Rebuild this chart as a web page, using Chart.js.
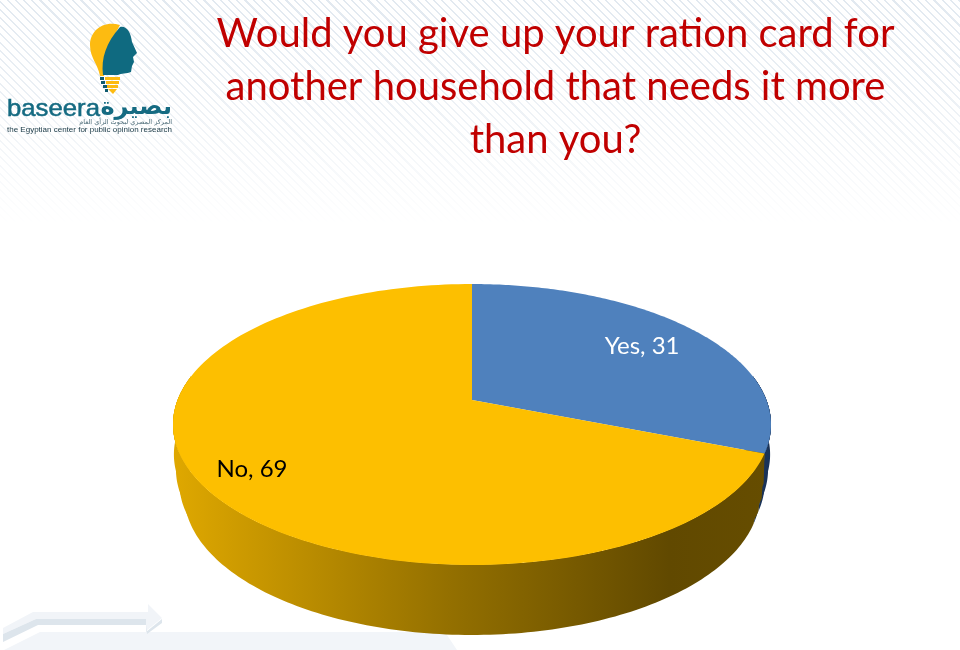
<!DOCTYPE html>
<html>
<head>
<meta charset="utf-8">
<title>Ration card</title>
<script src="https://cdn.jsdelivr.net/npm/chart.js@4"></script>
<style>
  html, body { margin: 0; padding: 0; background: #fff; }
  #page { position: relative; width: 960px; height: 650px; overflow: hidden; filter: blur(0.4px); }
  #hatch {
    position: absolute; left: 0; top: 0; width: 960px; height: 240px;
    background: repeating-linear-gradient(45deg, #e2e9f0 0, #e2e9f0 1.5px, #fff 1.5px, #fff 5.8px);
    -webkit-mask-image: linear-gradient(to bottom, rgba(0,0,0,1) 0, rgba(0,0,0,.7) 90px, rgba(0,0,0,0) 225px);
  }
  #deco, #logo { position: absolute; left: 0; top: 0; }
  canvas { position: absolute; left: 0; top: 0; }
</style>
</head>
<body>
<div id="page">
  <div id="hatch"></div>
  <svg id="deco" width="960" height="650">
    <path d="M4 650 L40 632 L445 632 L457 650 Z" fill="#f2f5f9"/>
    <path d="M3 628 L33 612 L148 612 L148 604 L162 618 L146 631 L146 619 L36 619 L3 634 Z" fill="#f1f4f8"/>
    <path d="M3 634 L36 619 L146 619 L146 632 L162 619 L162 623 L147 634 L146 625 L38 625 L3 642 Z" fill="#dde5ec"/>
  </svg>
  <canvas id="pieChart" width="960" height="650"></canvas>
  <svg id="logo" width="190" height="140">
    <path d="M120 25 C104 20 90 30 90 45 C90 58 98 64 100 76 L104 76 L112 40 Z" fill="#fdbb11"/>
    <path d="M120 27 C126 25 131 32 132 42 L137 53 L133 57 L134 62 L132 66 L131 72 C127 74 121 73 118 75 L103 75 C101 58 106 43 120 27 Z" fill="#0f6a80"/>
    <g fill="#fdbb11">
      <rect x="105" y="77" width="15" height="3"/>
      <rect x="106" y="81" width="13" height="3"/>
      <rect x="107" y="85" width="11" height="3"/>
      <path d="M108 89 L117 89 L113 94 Z"/>
    </g>
    <g fill="#0f5a70">
      <rect x="100" y="77" width="4" height="3"/>
      <rect x="101" y="81" width="4" height="3"/>
      <rect x="103" y="85" width="4" height="3"/>
      <rect x="105" y="89" width="3" height="3"/>
    </g>
    <text x="7" y="116" font-family="Liberation Sans" font-size="24" textLength="93" lengthAdjust="spacingAndGlyphs" fill="#156b82" stroke="#156b82" stroke-width=".5">baseera</text>
    <text x="172" y="114" text-anchor="start" direction="rtl" font-family="DejaVu Sans" font-weight="bold" font-size="24" fill="#156b82">بصيرة</text>
    <text x="172" y="124" text-anchor="start" direction="rtl" font-family="DejaVu Sans" font-size="6.5" fill="#4a6a76">المركز المصري لبحوث الرأي العام</text>
    <text x="7" y="132" font-family="Liberation Sans" font-size="7.4" textLength="165" lengthAdjust="spacingAndGlyphs" fill="#22404c">the Egyptian center for public opinion research</text>
  </svg>
</div>

<script>
const categories = ['Yes', 'No'];
const answers = [31, 69];
const sliceColors = ['#4f81bd', '#fdbf00'];
const labelColors = ['#ffffff', '#000000'];
const questionLines = [
  'Would you give up your ration card for',
  'another household that needs it more',
  'than you?'
];

// tilted pie geometry, the top face is a circle seen in perspective
const pieX = 472, pieY = 400;
const spanX = 294.4, spanY = 136.2, tilt = 0.1744;
const depth = 70;
const labelReach = [0.75, 0.83];

function rimPoint(angle, r, drop) {
  const u = Math.cos(angle) * r, v = Math.sin(angle) * r;
  const w = 1 - tilt * v;
  const shrink = 1 - 0.037 * Math.pow(drop / depth, 3);
  return { x: pieX + spanX * u / w * shrink, y: pieY + spanY * v / w + drop };
}

function tracePath(ctx, from, to, drop, first) {
  const steps = 160;
  for (let i = 0; i <= steps; i++) {
    const p = rimPoint(from + (to - from) * i / steps, 1, drop);
    if (i === 0 && first) ctx.moveTo(p.x, p.y);
    else ctx.lineTo(p.x, p.y);
  }
}

function wallFill(ctx, i) {
  const g = ctx.createLinearGradient(173, 0, 771, 0);
  if (i === 0) {
    g.addColorStop(0, '#1f3a63');
    g.addColorStop(1, '#1a3358');
  } else {
    g.addColorStop(0, '#dfa800');
    g.addColorStop(0.46, '#947000');
    g.addColorStop(0.83, '#614900');
    g.addColorStop(1, '#664d00');
  }
  return g;
}

const tiltedPie = {
  id: 'tiltedPie',
  beforeDatasetsDraw(chart) {
    const ctx = chart.ctx;
    const arcs = chart.getDatasetMeta(0).data;
    ctx.save();
    // side walls first, only the front part of the rim has one
    arcs.forEach((arc, i) => {
      const from = Math.max(arc.startAngle, -0.18);
      const to = Math.min(arc.endAngle, Math.PI + 0.18);
      ctx.fillStyle = wallFill(ctx, i);
      // several sweeps keep the sides straighter before the wall curves in
      [30, 45, 58, depth].forEach(bottom => {
        ctx.beginPath();
        tracePath(ctx, from, to, 0, true);
        tracePath(ctx, to, from, bottom, false);
        ctx.closePath();
        ctx.fill();
      });
    });
    arcs.forEach((arc, i) => {
      ctx.beginPath();
      ctx.moveTo(pieX, pieY);
      tracePath(ctx, arc.startAngle, arc.endAngle, 0, false);
      ctx.closePath();
      ctx.fillStyle = sliceColors[i];
      ctx.fill();
    });
    ctx.font = '24px Lato';
    ctx.textAlign = 'center';
    ctx.textBaseline = 'middle';
    arcs.forEach((arc, i) => {
      const mid = (arc.startAngle + arc.endAngle) / 2;
      const p = rimPoint(mid, labelReach[i], 0);
      ctx.fillStyle = labelColors[i];
      ctx.fillText(categories[i] + ', ' + answers[i], p.x, p.y);
    });
    ctx.restore();
    return false;
  }
};

new Chart(document.getElementById('pieChart').getContext('2d'), {
  type: 'pie',
  data: {
    labels: categories,
    datasets: [{ data: answers, backgroundColor: sliceColors, borderWidth: 0 }]
  },
  options: {
    responsive: false,
    animation: false,
    layout: { padding: { left: 151, top: 8 } },
    plugins: {
      legend: { display: false },
      tooltip: { enabled: false },
      title: {
        display: true,
        text: questionLines,
        fullSize: false,
        color: '#c00000',
        font: { family: 'Lato', size: 40, weight: 'normal', lineHeight: 1.32 },
        padding: 0
      }
    }
  },
  plugins: [tiltedPie]
});
</script>
</body>
</html>
